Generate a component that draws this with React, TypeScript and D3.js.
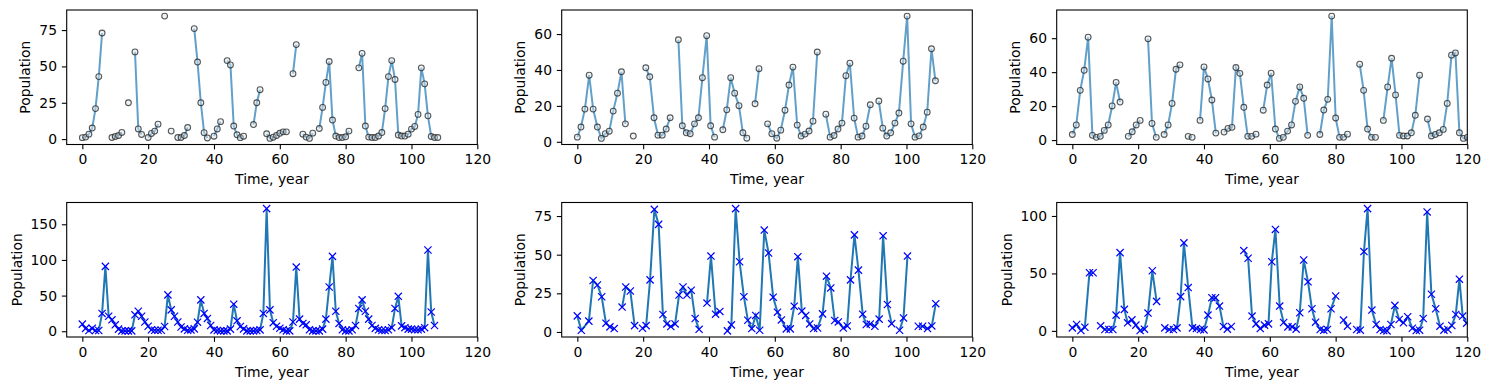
import React, { useEffect, useRef } from 'react';
import * as d3 from 'd3';

const W = 1489;
const H = 390;
const colX = [66.7, 561.7, 1056.7];
const rowY = [10, 202.5];
const axW = 410.6;
const axH = 134.5;
const FONT = '"DejaVu Sans", sans-serif';
const FS = 13.9;

const xDomain = [-4.75, 120];
const xTicks = [0, 20, 40, 60, 80, 100, 120];

// top row: observed population (gaps = missing years)
const topLeftTimes = [
  0, 1, 2, 3, 4, 5, 6, 7, 8, 9, 10, 11, 12, 13, 14, 15, 16, 17, 18, 19,
  20, 21, 22, 23, 24, 25, 26, 27, 28, 29, 30, 31, 32, 33, 34, 35, 36, 37, 38, 39,
  40, 41, 42, 43, 44, 45, 46, 47, 48, 49, 50, 51, 52, 53, 54, 55, 56, 57, 58, 59,
  60, 61, 62, 63, 64, 65, 66, 67, 68, 69, 70, 71, 72, 73, 74, 75, 76, 77, 78, 79,
  80, 81, 82, 83, 84, 85, 86, 87, 88, 89, 90, 91, 92, 93, 94, 95, 96, 97, 98, 99,
  100, 101, 102, 103, 104, 105, 106, 107, 108,
];
const topLeftValues = [
  1, 1.4, 3.4, 7.6, 21, 43, 73, null, null, 1.1,
  1.8, 2.5, 4.6, null, 25, null, 60, 7, 3.2, null,
  1.1, 3.9, 5.5, 10.3, null, 84.6, null, 5.5, null, 1.1,
  1.1, 2.5, 8, null, 76, 53, 25, 4.4, 0.8, null,
  2, 7, 12, null, 54, 51, 9, 3, 1, 2,
  null, null, 10, 25, 34, null, 3.7, 0.5, 1.3, 2.5,
  4, 5, 5, null, 45, 65, null, 3.4, 1.4, 0.5,
  4.1, null, 7.3, 21.8, 39, 53.4, 13.1, 2.1, 1.1, 1.1,
  1.6, 5.5, null, null, 49, 59, 9, 1.4, 1.1, 1.1,
  2.1, 4.5, 21, 43, 54, 41, 2.8, 2.1, 2.1, 3.4,
  6.9, 8.7, 17, 49, 38, 16, 1.8, 1.1, 1.1,
];

const topMidTimes = [
  0, 1.1, 2.3, 3.6, 4.8, 6.1, 7.3, 8.5, 9.7, 10.9, 12.2, 13.4, 14.6, 15.8, 17.0, 18.9,
  20.8, 22.0, 23.3, 24.5, 25.8, 27.0, 28.2, 29.5, 30.7, 31.9, 33.1, 34.3, 35.6, 36.8,
  38.0, 39.3, 40.5, 41.7, 43.0, 44.2, 45.4, 46.6, 47.8, 49.1, 50.3, 51.5, 52.8, 54.0,
  55.2, 56.5, 57.8, 59.1, 60.6, 61.8, 63.1, 64.3, 65.5, 66.8, 68.0, 69.2, 70.4, 71.6,
  72.9, 74.2, 75.5, 76.8, 78.0, 79.2, 80.4, 81.6, 82.8, 84.1, 85.3, 86.5, 87.7, 89.0,
  90.3, 91.6, 92.8, 94.0, 95.2, 96.5, 97.7, 99.0, 100.2, 101.4, 102.6, 103.8, 105.1,
  106.3, 107.6, 108.8,
];
const topMidValues = [
  2.6, 8.2, 18.2, 37.1, 18.2, 8.2, 1.9, 4.5, 5.9, 17.1, 27.1, 39, 10, null, 3.2, null,
  41.2, 36.2, 13.4, 3.7, 3.7, 7.1, 13.4, null, 56.8, 8.9, 5, 4.5, 10, 13.4,
  35.7, 59.1, 8.9, 2.6, null, 6.7, 17.8, 35.7, 27.1, 20.1, 5, 2, null, 21.2,
  40.7, null, 10, 4.5, 2, 6.5, 17.6, 31.6, 41.6, 9.3, 3.2, 4.3, 6, 11.5,
  50, null, 15.4, 2.6, 3.5, 7.1, 10.4, 36.8, 43.8, 13.2, 2.6, 3.2, 8.7, 20.6,
  null, 22.7, 7.6, 3.2, 5, 10.4, 16, 44.9, 70, 10, 2.6, 3.3, 8.2,
  16.5, 51.8, 34,
];

const topRightTimes = [
  0, 1.2, 2.4, 3.6, 4.8, 6.1, 7.3, 8.5, 9.7, 10.9, 12.1, 13.3, 14.5, 15.8, 17.0, 18.2,
  19.4, 20.6, 21.8, 23.0, 24.2, 25.5, 26.7, 27.9, 29.1, 30.3, 31.5, 32.7, 34.0, 35.2,
  36.4, 37.6, 38.8, 40.0, 41.2, 42.4, 43.6, 44.8, 46.1, 47.3, 48.5, 49.7, 50.9, 52.1,
  53.3, 54.5, 55.8, 56.9, 58.0, 59.2, 60.4, 61.7, 62.9, 64.1, 65.4, 66.6, 67.8, 69.1,
  70.3, 71.5, 73.4, 75.2, 76.4, 77.6, 78.8, 80.0, 81.2, 82.4, 83.6, 85.5, 87.3, 88.5,
  89.7, 90.9, 92.1, 93.3, 94.5, 95.8, 97.0, 98.2, 99.4, 100.6, 101.8, 103.0, 104.2,
  105.5, 106.7, 107.9, 109.1, 110.3, 111.5, 112.7, 113.9, 115.2, 116.4, 117.6, 118.8,
  120.0,
];
const topRightValues = [
  3.3, 8.9, 29.3, 41.1, 60.6, 2.8, 1.6, 2.2, 5.7, 8.9, 20.1, 34, 22.4, null, 2.2, 4.9,
  8.9, 11.6, null, 59.6, 9.8, 1.6, null, 3.3, 8.9, 21.6, 41.7, 44.3, null, 2.2,
  1.6, null, 11.6, 43.1, 36, 23.6, 4.1, null, 4.7, 6.9, 7.5, 42.7, 39.3, 19.3,
  2.2, 2.2, 3.5, null, 17.6, 32.4, 39.4, 6.5, 1, 1.6, 5.3, 8.9, 22.8, 31.3,
  24.6, 2.8, null, 3.3, 17.7, 24, 73, 13, 1.6, 1.6, 3.5, null, 44.7, 29.3,
  6.5, 1.6, 1.6, null, 11.6, 31.3, 48.2, 26.6, 2.8, 2.4, 2.4, 4.3, 14.6,
  38.2, null, 12.4, 2.4, 3.3, 4.3, 6.3, 21.6, 50, 51.3, 4.3, 1,
  1.6,
];

// bottom row: simulated population
const bottomLeftTimes = [
  0, 1, 2, 3, 4, 5, 6, 7, 8, 9, 10, 11, 12, 13, 14, 15, 16, 17, 18, 19,
  20, 21, 22, 23, 24, 25, 26, 27, 28, 29, 30, 31, 32, 33, 34, 35, 36, 37, 38, 39,
  40, 41, 42, 43, 44, 45, 46, 47, 48, 49, 50, 51, 52, 53, 54, 55, 56, 57, 58, 59,
  60, 61, 62, 63, 64, 65, 66, 67, 68, 69, 70, 71, 72, 73, 74, 75, 76, 77, 78, 79,
  80, 81, 82, 83, 84, 85, 86, 87, 88, 89, 90, 91, 92, 93, 94, 95, 96, 97, 98, 99,
  100, 101, 102, 103, 104, 105, 106, 107,
];
const bottomLeftValues = [
  10, 4, 1, 4, 1, 1, 25, 91, 21, 16,
  9, 3, 0.5, 0.5, 0.5, 0.5, 23, 28, 21, 13,
  7, 2, 1.4, 1.4, 1.4, 6.6, 51, 30, 21, 13,
  6, 3.3, 1.4, 1.9, 3.3, 12.7, 44, 25, 18, 8,
  1.9, 1, 0.5, 0.5, 0.5, 3, 38, 14.6, 6.6, 3.3,
  0.5, 0.5, 0.5, 1, 1.9, 25, 172, 30, 12, 7,
  4.2, 2, 0.5, 0.5, 13, 90, 17, 11, 9, 2,
  0.5, 0.5, 0.5, 3, 17, 62, 105, 28, 11, 2,
  0.5, 0.5, 2, 8, 32, 44, 28, 17, 8, 4,
  2, 1, 1, 2, 5, 32, 49, 7.5, 5, 3,
  3, 2, 2, 3, 5, 114, 27, 8,
];

const bottomMidTimes = [
  0, 1.2, 3.5, 4.8, 6.1, 7.4, 8.7, 9.9, 11.2, 12.4, 13.6, 14.7, 16.1, 17.4, 18.6,
  19.8, 20.9, 22.1, 23.4, 24.7, 26.0, 27.2, 28.4, 29.7, 30.9, 32.1, 33.3, 34.6, 35.8,
  37.0, 38.2, 39.4, 40.6, 42.0, 43.3, 44.5, 45.6, 46.8, 48.1, 49.3, 50.6, 51.8, 53.0,
  54.2, 55.4, 56.8, 58.1, 59.5, 60.8, 62.0, 63.5, 64.7, 65.9, 67.0, 68.2, 69.4, 70.6,
  71.8, 73.0, 74.5, 75.7, 77.0, 78.2, 79.3, 80.8, 82.0, 83.0, 84.2, 85.4, 86.7, 87.8,
  89.0, 90.4, 91.7, 92.9, 94.2, 95.5, 96.7, 97.9, 99.1, 100.3, 102.0, 103.6, 104.9,
  106.4, 107.7, 108.9,
];
const bottomMidValues = [
  10.4, 1.1, 7, 33.3, 30.4, 22.8, 5.7, 3.3, 2.2, null, 16.1, 29.1, 26.5, 4.1, null,
  2.4, 4.1, 33.7, 79.3, 69.6, 11.3, 5.2, 3.5, 5.2, 23.9, 29.1, 23.9, 27, 8.7,
  1.7, null, 18.7, 49.1, 11.5, 13.3, null, 0.7, 4.6, 79.8, 45.4, 22.8, 7.6, 2.2,
  10.7, 1.1, 65.9, 51.1, 22.5, 12.8, 7.8, 2, 2, 16.7, 48.7, 13.5, 10.7, 5.2,
  2.2, 2.6, 11.7, 36.1, 28.5, 7.4, 6.5, 2.6, 3.9, 33.7, 62.8, 40, 11.5, 4.8,
  5.2, 3.7, 8.3, 62.2, 17.8, 5.4, null, 1.1, 9.1, 49.1, null, 3.7, 3.7,
  2.2, 3.9, 18.3,
];

const bottomRightTimes = [
  0, 1.3, 2.6, 3.8, 5.2, 6.3, 7.4, 8.6, 9.9, 11.1, 12.3, 13.3, 14.5, 15.8, 16.8, 18.1,
  19.3, 20.6, 21.9, 23.0, 24.3, 25.6, 26.8, 28.1, 29.4, 30.7, 31.8, 32.9, 33.9, 35.2,
  36.5, 37.7, 38.9, 40.0, 41.2, 42.4, 43.5, 44.7, 45.9, 47.1, 48.3, 50.2, 52.1, 53.4,
  54.6, 55.8, 57.1, 58.4, 59.6, 60.6, 61.7, 63.0, 64.2, 65.5, 66.8, 68.0, 69.1, 70.3,
  71.6, 72.8, 73.9, 75.3, 76.4, 77.5, 78.6, 80.0, 81.2, 82.4, 83.6, 84.9, 86.4, 87.5,
  88.6, 89.7, 91.0, 92.3, 93.5, 94.6, 95.6, 96.8, 98.0, 99.3, 100.6, 101.9, 103.3,
  104.5, 105.5, 106.6, 107.8, 109.1, 110.4, 111.7, 112.9, 114.1, 115.3, 116.5, 117.6,
  118.6, 119.8,
];
const bottomRightValues = [
  2.6, 5.6, 0.3, 3.2, 50.6, 50.6, null, 4.4, 1.2, 1.2, 1.2, 13.7, 68.1, 18.7, 7, 9.6,
  5, 0.3, 1.5, 15.5, 52.3, 25.7, null, 2.6, 1.2, 1.2, 2.6, 29.8, 76.6, 37.7,
  2.6, 2, 1.2, 0.9, 13.7, 28.9, 28.9, 21.6, 3.8, 1.5, 3.8, null, 69.9, 63.2,
  12.9, 6.1, 2, 5, 6.1, 60.2, 88.3, 21.6, 7.3, 3.5, 3.5, 1.5, 15.8, 61.7,
  42.7, 19.3, 7.6, 1.2, 0.5, 1.2, 19.3, 30.4, null, 9.4, 4.1, null, 1.2, 0.6,
  69, 106.4, 18.1, 5.6, 1.2, 0.3, 0, 5.6, 22.2, 9.9, 7, 12.3, 2.3,
  0.3, 0.6, 10.8, 103.5, 31.9, 19.3, 4.1, 0.6, 1.2, 4.7, 14.3, 45,
  12.9, 6.7,
];

const yTicksTopLeft = [0, 25, 50, 75];
const yTicksTopMid = [0, 20, 40, 60];
const yTicksTopRight = [0, 20, 40, 60];
const yTicksBottomLeft = [0, 50, 100, 150];
const yTicksBottomMid = [0, 25, 50, 75];
const yTicksBottomRight = [0, 50, 100];

const panels = [
  { times: topLeftTimes, values: topLeftValues, yTicks: yTicksTopLeft, col: 0, row: 0 },
  { times: topMidTimes, values: topMidValues, yTicks: yTicksTopMid, col: 1, row: 0 },
  { times: topRightTimes, values: topRightValues, yTicks: yTicksTopRight, col: 2, row: 0 },
  { times: bottomLeftTimes, values: bottomLeftValues, yTicks: yTicksBottomLeft, col: 0, row: 1 },
  { times: bottomMidTimes, values: bottomMidValues, yTicks: yTicksBottomMid, col: 1, row: 1 },
  { times: bottomRightTimes, values: bottomRightValues, yTicks: yTicksBottomRight, col: 2, row: 1 },
];

function drawPanel(svg, p, i) {
  const g = svg.append('g').attr('transform', `translate(${colX[p.col]},${rowY[p.row]})`);

  const vals = p.values.filter((v) => v !== null);
  const lo = d3.min(vals);
  const hi = d3.max(vals);
  const pad = (hi - lo) * 0.05;
  const x = d3.scaleLinear().domain(xDomain).range([0, axW]);
  const y = d3.scaleLinear().domain([lo - pad, hi + pad]).range([axH, 0]);

  const clipId = `clip-${i}`;
  g.append('clipPath').attr('id', clipId)
    .append('rect').attr('width', axW).attr('height', axH);

  const pts = p.times.map((t, k) => ({ t, v: p.values[k] }));
  const okPts = pts.filter((d) => d.v !== null);
  const line = d3.line()
    .defined((d) => d.v !== null)
    .x((d) => x(d.t))
    .y((d) => y(d.v));

  const plot = g.append('g').attr('clip-path', `url(#${clipId})`);

  if (p.row === 0) {
    plot.append('path').datum(pts)
      .attr('d', line)
      .attr('fill', 'none')
      .attr('stroke', '#1f77b4')
      .attr('stroke-opacity', 0.7)
      .attr('stroke-width', 2);
    plot.selectAll('.dot').data(okPts).enter()
      .append('circle')
      .attr('class', 'dot')
      .attr('cx', (d) => x(d.t))
      .attr('cy', (d) => y(d.v))
      .attr('r', 2.9)
      .attr('fill', '#d9e6ef')
      .attr('fill-opacity', 0.45)
      .attr('stroke', '#222')
      .attr('stroke-opacity', 0.75)
      .attr('stroke-width', 1.1);
  } else {
    plot.append('path').datum(pts)
      .attr('d', line)
      .attr('fill', 'none')
      .attr('stroke', '#1f77b4')
      .attr('stroke-width', 2);
    const s = 3.6;
    plot.selectAll('.cross').data(okPts).enter()
      .append('path')
      .attr('class', 'cross')
      .attr('transform', (d) => `translate(${x(d.t)},${y(d.v)})`)
      .attr('d', `M${-s},${-s}L${s},${s}M${-s},${s}L${s},${-s}`)
      .attr('fill', 'none')
      .attr('stroke', '#0000ff')
      .attr('stroke-width', 1.2);
  }

  const xAxis = d3.axisBottom(x).tickValues(xTicks).tickSize(4.86).tickPadding(4.86);
  const yAxis = d3.axisLeft(y).tickValues(p.yTicks).tickSize(4.86).tickPadding(4.86);

  const gx = g.append('g').attr('transform', `translate(0,${axH})`).call(xAxis);
  const gy = g.append('g').call(yAxis);
  [gx, gy].forEach((ax) => {
    ax.select('.domain').remove();
    ax.selectAll('line').attr('stroke', '#000').attr('stroke-width', 1.1);
    ax.selectAll('text').attr('fill', '#000').style('font-family', FONT).style('font-size', `${FS}px`);
  });

  g.append('rect')
    .attr('width', axW).attr('height', axH)
    .attr('fill', 'none').attr('stroke', '#000').attr('stroke-width', 1.1);

  g.append('text')
    .attr('x', axW / 2).attr('y', axH + 39.5)
    .attr('text-anchor', 'middle')
    .style('font-family', FONT).style('font-size', `${FS}px`)
    .text('Time, year');

  const maxChars = d3.max(p.yTicks, (t) => String(t).length);
  const labelW = maxChars * 0.636 * FS;
  const bx = -(9.72 + labelW + 5.6 + 3.3);
  g.append('text')
    .attr('transform', `translate(${bx},${axH / 2}) rotate(-90)`)
    .attr('text-anchor', 'middle')
    .style('font-family', FONT).style('font-size', `${FS}px`)
    .text('Population');
}

export default function App() {
  const ref = useRef(null);

  useEffect(() => {
    const svg = d3.select(ref.current);
    svg.selectAll('*').remove();
    svg.append('rect').attr('width', W).attr('height', H).attr('fill', '#fff');
    panels.forEach((p, i) => drawPanel(svg, p, i));
  }, []);

  return (
    <svg ref={ref} width={W} height={H}
      style={{ position: 'absolute', left: 0, top: 0, display: 'block' }} />
  );
}
